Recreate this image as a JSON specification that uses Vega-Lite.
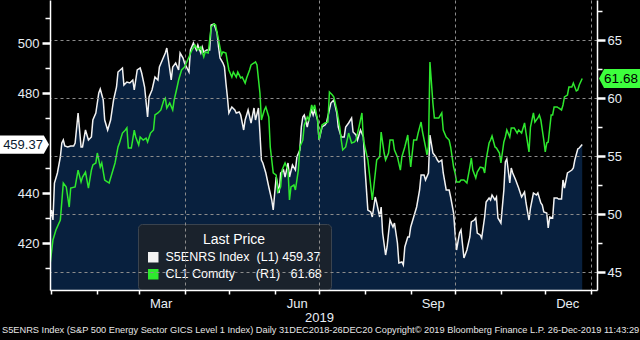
{
  "$schema": "https://vega.github.io/schema/vega-lite/v6.json",
  "width": 547,
  "height": 290,
  "autosize": {"type": "none"},
  "padding": {"left": 50, "top": 0, "right": 43, "bottom": 50},
  "background": "#000000",
  "config": {"view": {"stroke": null}, "font": "Liberation Sans"},
  "title": {
    "text": "S5ENRS Index (S&P 500 Energy Sector GICS Level 1 Index)  Daily 31DEC2018-26DEC20     Copyright\u00a9 2019 Bloomberg Finance L.P.     26-Dec-2019 11:43:29",
    "orient": "bottom", "anchor": "start", "frame": "group", "dx": -48, "offset": 2,
    "font": "Liberation Sans", "fontSize": 9.25, "fontWeight": "normal", "color": "#e6e6e6"
  },
  "datasets": {
    "s5": [
      {"date":"2018-12-31","v":429.2},{"date":"2019-01-01","v":433.2},{"date":"2019-01-02","v":429.2},{"date":"2019-01-03","v":444.0},{"date":"2019-01-05","v":448.0},{"date":"2019-01-07","v":454.4},{"date":"2019-01-08","v":460.0},{"date":"2019-01-09","v":461.2},{"date":"2019-01-10","v":458.8},{"date":"2019-01-12","v":458.4},{"date":"2019-01-14","v":458.8},{"date":"2019-01-16","v":458.8},{"date":"2019-01-17","v":460.0},{"date":"2019-01-19","v":472.0},{"date":"2019-01-21","v":458.4},{"date":"2019-01-22","v":458.4},{"date":"2019-01-24","v":465.2},{"date":"2019-01-26","v":461.2},{"date":"2019-01-28","v":462.4},{"date":"2019-01-29","v":469.2},{"date":"2019-01-31","v":472.0},
      {"date":"2019-02-02","v":480.0},{"date":"2019-02-03","v":481.6},{"date":"2019-02-05","v":477.2},{"date":"2019-02-06","v":469.2},{"date":"2019-02-08","v":465.2},{"date":"2019-02-10","v":469.2},{"date":"2019-02-12","v":477.2},{"date":"2019-02-14","v":482.4},{"date":"2019-02-15","v":488.4},{"date":"2019-02-18","v":490.0},{"date":"2019-02-19","v":483.2},{"date":"2019-02-21","v":484.4},{"date":"2019-02-23","v":484.0},{"date":"2019-02-25","v":485.2},{"date":"2019-02-26","v":481.2},{"date":"2019-02-28","v":489.2},
      {"date":"2019-03-02","v":490.0},{"date":"2019-03-03","v":488.0},{"date":"2019-03-05","v":482.4},{"date":"2019-03-07","v":470.4},{"date":"2019-03-08","v":478.4},{"date":"2019-03-10","v":481.2},{"date":"2019-03-12","v":486.4},{"date":"2019-03-14","v":485.2},{"date":"2019-03-15","v":490.4},{"date":"2019-03-17","v":493.2},{"date":"2019-03-19","v":496.0},{"date":"2019-03-20","v":498.0},{"date":"2019-03-23","v":485.2},{"date":"2019-03-24","v":490.4},{"date":"2019-03-26","v":492.0},{"date":"2019-03-28","v":489.2},{"date":"2019-03-29","v":496.0},{"date":"2019-03-31","v":494.0},
      {"date":"2019-04-01","v":492.0},{"date":"2019-04-04","v":488.4},{"date":"2019-04-05","v":497.2},{"date":"2019-04-07","v":500.0},{"date":"2019-04-09","v":497.2},{"date":"2019-04-10","v":499.2},{"date":"2019-04-12","v":496.0},{"date":"2019-04-13","v":498.4},{"date":"2019-04-14","v":496.4},{"date":"2019-04-16","v":497.2},{"date":"2019-04-18","v":497.2},{"date":"2019-04-19","v":507.2},{"date":"2019-04-21","v":507.6},{"date":"2019-04-23","v":504.0},{"date":"2019-04-24","v":498.4},{"date":"2019-04-25","v":494.0},{"date":"2019-04-27","v":492.0},{"date":"2019-04-28","v":490.4},{"date":"2019-04-29","v":484.0},{"date":"2019-04-30","v":478.4},
      {"date":"2019-05-01","v":472.0},{"date":"2019-05-03","v":474.4},{"date":"2019-05-05","v":473.2},{"date":"2019-05-06","v":472.0},{"date":"2019-05-08","v":472.4},{"date":"2019-05-09","v":471.2},{"date":"2019-05-11","v":465.2},{"date":"2019-05-12","v":469.2},{"date":"2019-05-14","v":473.2},{"date":"2019-05-16","v":468.0},{"date":"2019-05-18","v":474.0},{"date":"2019-05-19","v":469.2},{"date":"2019-05-21","v":474.0},{"date":"2019-05-22","v":464.0},{"date":"2019-05-23","v":453.2},{"date":"2019-05-24","v":452.0},{"date":"2019-05-26","v":448.0},{"date":"2019-05-28","v":442.4},{"date":"2019-05-30","v":437.2},{"date":"2019-05-31","v":433.2},
      {"date":"2019-06-01","v":440.0},{"date":"2019-06-02","v":446.4},{"date":"2019-06-04","v":440.0},{"date":"2019-06-05","v":448.0},{"date":"2019-06-07","v":449.2},{"date":"2019-06-08","v":446.4},{"date":"2019-06-10","v":452.0},{"date":"2019-06-11","v":446.4},{"date":"2019-06-13","v":451.2},{"date":"2019-06-15","v":449.2},{"date":"2019-06-16","v":454.4},{"date":"2019-06-18","v":457.2},{"date":"2019-06-19","v":466.4},{"date":"2019-06-20","v":470.4},{"date":"2019-06-21","v":471.2},{"date":"2019-06-23","v":466.4},{"date":"2019-06-24","v":469.2},{"date":"2019-06-26","v":473.2},{"date":"2019-06-27","v":471.2},{"date":"2019-06-28","v":473.2},{"date":"2019-06-30","v":469.2},
      {"date":"2019-07-01","v":461.2},{"date":"2019-07-03","v":466.4},{"date":"2019-07-05","v":467.2},{"date":"2019-07-06","v":468.0},{"date":"2019-07-09","v":476.0},{"date":"2019-07-11","v":477.2},{"date":"2019-07-13","v":472.0},{"date":"2019-07-14","v":466.4},{"date":"2019-07-16","v":462.4},{"date":"2019-07-18","v":462.4},{"date":"2019-07-19","v":466.4},{"date":"2019-07-21","v":468.0},{"date":"2019-07-23","v":470.0},{"date":"2019-07-24","v":464.4},{"date":"2019-07-26","v":463.2},{"date":"2019-07-27","v":461.2},{"date":"2019-07-29","v":465.2},{"date":"2019-07-31","v":462.4},
      {"date":"2019-08-01","v":450.4},{"date":"2019-08-03","v":433.2},{"date":"2019-08-05","v":432.4},{"date":"2019-08-06","v":430.4},{"date":"2019-08-08","v":438.4},{"date":"2019-08-09","v":436.0},{"date":"2019-08-11","v":430.4},{"date":"2019-08-12","v":434.4},{"date":"2019-08-13","v":424.0},{"date":"2019-08-15","v":415.2},{"date":"2019-08-16","v":418.4},{"date":"2019-08-17","v":424.0},{"date":"2019-08-18","v":429.2},{"date":"2019-08-20","v":426.4},{"date":"2019-08-21","v":428.0},{"date":"2019-08-23","v":420.0},{"date":"2019-08-24","v":412.0},{"date":"2019-08-26","v":412.4},{"date":"2019-08-27","v":411.2},{"date":"2019-08-28","v":418.4},{"date":"2019-08-30","v":422.4},{"date":"2019-08-31","v":422.4},
      {"date":"2019-09-01","v":426.4},{"date":"2019-09-03","v":430.4},{"date":"2019-09-05","v":434.4},{"date":"2019-09-07","v":441.2},{"date":"2019-09-08","v":447.2},{"date":"2019-09-10","v":447.2},{"date":"2019-09-11","v":445.2},{"date":"2019-09-13","v":448.0},{"date":"2019-09-14","v":463.2},{"date":"2019-09-16","v":456.0},{"date":"2019-09-18","v":454.4},{"date":"2019-09-19","v":453.2},{"date":"2019-09-20","v":452.4},{"date":"2019-09-22","v":453.2},{"date":"2019-09-23","v":448.0},{"date":"2019-09-25","v":441.2},{"date":"2019-09-27","v":441.2},{"date":"2019-09-28","v":438.4},{"date":"2019-09-30","v":432.0},
      {"date":"2019-10-01","v":424.0},{"date":"2019-10-02","v":417.2},{"date":"2019-10-04","v":424.0},{"date":"2019-10-05","v":425.2},{"date":"2019-10-07","v":414.0},{"date":"2019-10-09","v":417.2},{"date":"2019-10-11","v":422.4},{"date":"2019-10-12","v":428.4},{"date":"2019-10-14","v":429.2},{"date":"2019-10-15","v":430.0},{"date":"2019-10-16","v":424.0},{"date":"2019-10-18","v":423.2},{"date":"2019-10-19","v":422.0},{"date":"2019-10-21","v":430.4},{"date":"2019-10-22","v":436.4},{"date":"2019-10-24","v":438.0},{"date":"2019-10-25","v":437.2},{"date":"2019-10-26","v":439.2},{"date":"2019-10-28","v":437.2},{"date":"2019-10-29","v":438.4},{"date":"2019-10-30","v":430.0},
      {"date":"2019-11-01","v":428.0},{"date":"2019-11-03","v":441.2},{"date":"2019-11-04","v":452.4},{"date":"2019-11-05","v":453.6},{"date":"2019-11-07","v":444.0},{"date":"2019-11-08","v":450.0},{"date":"2019-11-09","v":448.0},{"date":"2019-11-11","v":445.2},{"date":"2019-11-13","v":442.0},{"date":"2019-11-15","v":438.4},{"date":"2019-11-17","v":440.4},{"date":"2019-11-18","v":436.0},{"date":"2019-11-20","v":429.2},{"date":"2019-11-21","v":434.0},{"date":"2019-11-23","v":440.0},{"date":"2019-11-25","v":439.2},{"date":"2019-11-26","v":440.0},{"date":"2019-11-28","v":436.0},{"date":"2019-11-29","v":435.2},{"date":"2019-11-30","v":432.4},
      {"date":"2019-12-02","v":432.0},{"date":"2019-12-03","v":426.0},{"date":"2019-12-04","v":430.4},{"date":"2019-12-06","v":430.0},{"date":"2019-12-07","v":438.0},{"date":"2019-12-09","v":438.0},{"date":"2019-12-10","v":437.6},{"date":"2019-12-12","v":437.6},{"date":"2019-12-13","v":445.2},{"date":"2019-12-14","v":442.0},{"date":"2019-12-16","v":448.0},{"date":"2019-12-17","v":448.4},{"date":"2019-12-19","v":449.2},{"date":"2019-12-20","v":450.0},{"date":"2019-12-21","v":453.2},{"date":"2019-12-23","v":457.6},{"date":"2019-12-24","v":458.0},{"date":"2019-12-26","v":459.37}
    ],
    "cl": [
      {"date":"2018-12-31","v":45.61},{"date":"2019-01-02","v":47.76},{"date":"2019-01-04","v":48.62},{"date":"2019-01-07","v":49.48},{"date":"2019-01-09","v":52.67},{"date":"2019-01-11","v":52.33},{"date":"2019-01-13","v":50.60},{"date":"2019-01-14","v":52.24},{"date":"2019-01-17","v":52.33},{"date":"2019-01-19","v":53.79},{"date":"2019-01-21","v":52.76},{"date":"2019-01-22","v":53.19},{"date":"2019-01-24","v":53.62},{"date":"2019-01-26","v":52.24},{"date":"2019-01-28","v":53.79},{"date":"2019-01-29","v":54.23},{"date":"2019-01-31","v":54.40},
      {"date":"2019-02-01","v":55.26},{"date":"2019-02-03","v":54.05},{"date":"2019-02-04","v":54.40},{"date":"2019-02-06","v":52.93},{"date":"2019-02-08","v":52.76},{"date":"2019-02-09","v":52.67},{"date":"2019-02-11","v":53.54},{"date":"2019-02-13","v":54.40},{"date":"2019-02-15","v":55.78},{"date":"2019-02-16","v":56.12},{"date":"2019-02-18","v":56.98},{"date":"2019-02-20","v":57.24},{"date":"2019-02-21","v":57.42},{"date":"2019-02-22","v":55.69},{"date":"2019-02-24","v":55.69},{"date":"2019-02-26","v":57.24},{"date":"2019-02-27","v":56.64},
      {"date":"2019-03-01","v":55.95},{"date":"2019-03-02","v":56.64},{"date":"2019-03-04","v":56.38},{"date":"2019-03-06","v":56.55},{"date":"2019-03-07","v":56.21},{"date":"2019-03-09","v":56.98},{"date":"2019-03-11","v":57.24},{"date":"2019-03-12","v":58.54},{"date":"2019-03-14","v":58.71},{"date":"2019-03-16","v":58.97},{"date":"2019-03-18","v":59.83},{"date":"2019-03-19","v":60.00},{"date":"2019-03-20","v":59.14},{"date":"2019-03-22","v":59.57},{"date":"2019-03-24","v":58.97},{"date":"2019-03-25","v":59.83},{"date":"2019-03-27","v":60.95},{"date":"2019-03-28","v":61.55},{"date":"2019-03-30","v":62.42},
      {"date":"2019-04-01","v":62.67},{"date":"2019-04-04","v":63.54},{"date":"2019-04-06","v":64.14},{"date":"2019-04-08","v":64.57},{"date":"2019-04-10","v":64.14},{"date":"2019-04-12","v":64.40},{"date":"2019-04-14","v":63.54},{"date":"2019-04-15","v":63.97},{"date":"2019-04-17","v":63.88},{"date":"2019-04-19","v":66.12},{"date":"2019-04-21","v":66.38},{"date":"2019-04-22","v":66.30},{"date":"2019-04-24","v":65.00},{"date":"2019-04-26","v":63.71},{"date":"2019-04-27","v":63.97},{"date":"2019-04-29","v":63.88},
      {"date":"2019-05-01","v":62.42},{"date":"2019-05-03","v":61.81},{"date":"2019-05-04","v":62.24},{"date":"2019-05-06","v":61.81},{"date":"2019-05-07","v":62.24},{"date":"2019-05-09","v":61.73},{"date":"2019-05-10","v":61.81},{"date":"2019-05-12","v":61.29},{"date":"2019-05-13","v":61.73},{"date":"2019-05-15","v":62.42},{"date":"2019-05-16","v":62.85},{"date":"2019-05-18","v":63.02},{"date":"2019-05-19","v":63.11},{"date":"2019-05-20","v":62.85},{"date":"2019-05-22","v":60.43},{"date":"2019-05-23","v":58.11},{"date":"2019-05-25","v":58.97},{"date":"2019-05-26","v":59.23},{"date":"2019-05-28","v":58.36},{"date":"2019-05-29","v":55.78},{"date":"2019-05-30","v":54.66},{"date":"2019-05-31","v":53.54},
      {"date":"2019-06-02","v":53.36},{"date":"2019-06-03","v":51.90},{"date":"2019-06-05","v":52.33},{"date":"2019-06-06","v":53.79},{"date":"2019-06-08","v":54.40},{"date":"2019-06-10","v":53.79},{"date":"2019-06-11","v":51.21},{"date":"2019-06-12","v":52.33},{"date":"2019-06-14","v":52.50},{"date":"2019-06-15","v":52.07},{"date":"2019-06-17","v":53.79},{"date":"2019-06-18","v":55.78},{"date":"2019-06-20","v":56.38},{"date":"2019-06-21","v":57.67},{"date":"2019-06-23","v":58.36},{"date":"2019-06-24","v":58.11},{"date":"2019-06-26","v":59.40},{"date":"2019-06-27","v":58.97},{"date":"2019-06-28","v":59.40},{"date":"2019-06-30","v":58.11},
      {"date":"2019-07-01","v":56.38},{"date":"2019-07-03","v":57.67},{"date":"2019-07-05","v":57.85},{"date":"2019-07-07","v":57.93},{"date":"2019-07-08","v":60.52},{"date":"2019-07-10","v":60.26},{"date":"2019-07-11","v":60.09},{"date":"2019-07-13","v":58.97},{"date":"2019-07-15","v":57.50},{"date":"2019-07-16","v":56.38},{"date":"2019-07-17","v":55.52},{"date":"2019-07-19","v":55.78},{"date":"2019-07-21","v":56.98},{"date":"2019-07-23","v":56.12},{"date":"2019-07-25","v":56.21},{"date":"2019-07-26","v":56.38},{"date":"2019-07-28","v":57.50},{"date":"2019-07-30","v":58.71},{"date":"2019-07-31","v":56.38},
      {"date":"2019-08-01","v":55.78},{"date":"2019-08-03","v":54.66},{"date":"2019-08-04","v":53.54},{"date":"2019-08-06","v":51.21},{"date":"2019-08-07","v":52.33},{"date":"2019-08-09","v":54.66},{"date":"2019-08-11","v":54.92},{"date":"2019-08-12","v":57.07},{"date":"2019-08-14","v":55.26},{"date":"2019-08-15","v":54.66},{"date":"2019-08-17","v":55.26},{"date":"2019-08-18","v":56.38},{"date":"2019-08-20","v":56.38},{"date":"2019-08-21","v":55.52},{"date":"2019-08-23","v":54.92},{"date":"2019-08-25","v":53.79},{"date":"2019-08-26","v":54.92},{"date":"2019-08-28","v":55.78},{"date":"2019-08-30","v":56.81},{"date":"2019-08-31","v":55.26},
      {"date":"2019-09-01","v":54.05},{"date":"2019-09-03","v":56.38},{"date":"2019-09-05","v":56.38},{"date":"2019-09-06","v":56.98},{"date":"2019-09-08","v":57.93},{"date":"2019-09-09","v":57.07},{"date":"2019-09-11","v":55.78},{"date":"2019-09-12","v":55.09},{"date":"2019-09-13","v":55.78},{"date":"2019-09-14","v":63.11},{"date":"2019-09-16","v":59.57},{"date":"2019-09-17","v":58.28},{"date":"2019-09-19","v":58.28},{"date":"2019-09-20","v":58.28},{"date":"2019-09-22","v":58.71},{"date":"2019-09-23","v":57.24},{"date":"2019-09-25","v":56.64},{"date":"2019-09-27","v":56.38},{"date":"2019-09-28","v":55.78},{"date":"2019-09-30","v":54.05},
      {"date":"2019-10-01","v":53.54},{"date":"2019-10-02","v":52.76},{"date":"2019-10-04","v":52.76},{"date":"2019-10-05","v":52.93},{"date":"2019-10-07","v":52.93},{"date":"2019-10-09","v":52.67},{"date":"2019-10-11","v":54.05},{"date":"2019-10-12","v":54.83},{"date":"2019-10-13","v":53.79},{"date":"2019-10-15","v":53.11},{"date":"2019-10-16","v":53.62},{"date":"2019-10-18","v":54.05},{"date":"2019-10-20","v":53.97},{"date":"2019-10-21","v":53.54},{"date":"2019-10-22","v":54.66},{"date":"2019-10-24","v":56.12},{"date":"2019-10-25","v":56.38},{"date":"2019-10-26","v":56.73},{"date":"2019-10-28","v":55.78},{"date":"2019-10-29","v":55.69},{"date":"2019-10-31","v":55.26},
      {"date":"2019-11-01","v":54.40},{"date":"2019-11-03","v":56.21},{"date":"2019-11-04","v":56.64},{"date":"2019-11-05","v":57.24},{"date":"2019-11-07","v":56.64},{"date":"2019-11-08","v":57.42},{"date":"2019-11-10","v":57.42},{"date":"2019-11-12","v":56.98},{"date":"2019-11-13","v":57.24},{"date":"2019-11-15","v":56.98},{"date":"2019-11-17","v":57.85},{"date":"2019-11-18","v":56.98},{"date":"2019-11-20","v":55.35},{"date":"2019-11-21","v":57.50},{"date":"2019-11-23","v":58.71},{"date":"2019-11-24","v":57.93},{"date":"2019-11-26","v":58.28},{"date":"2019-11-27","v":58.54},{"date":"2019-11-28","v":58.11},{"date":"2019-11-30","v":56.38},
      {"date":"2019-12-01","v":55.35},{"date":"2019-12-02","v":56.12},{"date":"2019-12-03","v":56.21},{"date":"2019-12-05","v":58.54},{"date":"2019-12-06","v":58.54},{"date":"2019-12-07","v":59.23},{"date":"2019-12-09","v":59.23},{"date":"2019-12-10","v":59.14},{"date":"2019-12-12","v":58.97},{"date":"2019-12-13","v":59.40},{"date":"2019-12-14","v":60.09},{"date":"2019-12-16","v":60.26},{"date":"2019-12-17","v":60.95},{"date":"2019-12-19","v":60.95},{"date":"2019-12-20","v":61.29},{"date":"2019-12-22","v":60.61},{"date":"2019-12-23","v":60.69},{"date":"2019-12-24","v":61.12},{"date":"2019-12-26","v":61.68}
    ]
  },
  "layer": [
    {
      "data": {"name": "s5"},
      "encoding": {
        "x": {
          "field": "date", "type": "temporal",
          "scale": {"type": "utc", "domain": [{"year": 2018, "month": 12, "date": 31, "utc": true}, {"year": 2020, "month": 1, "date": 5, "utc": true}]},
          "axis": {
            "orient": "bottom", "title": null, "grid": false,
            "values": [
              {"year": 2019, "month": 1, "date": 1, "utc": true}, {"year": 2019, "month": 2, "date": 1, "utc": true}, {"year": 2019, "month": 3, "date": 1, "utc": true},
              {"year": 2019, "month": 4, "date": 1, "utc": true}, {"year": 2019, "month": 5, "date": 1, "utc": true}, {"year": 2019, "month": 6, "date": 1, "utc": true},
              {"year": 2019, "month": 7, "date": 1, "utc": true}, {"year": 2019, "month": 8, "date": 1, "utc": true}, {"year": 2019, "month": 9, "date": 1, "utc": true},
              {"year": 2019, "month": 10, "date": 1, "utc": true}, {"year": 2019, "month": 11, "date": 1, "utc": true}, {"year": 2019, "month": 12, "date": 1, "utc": true},
              {"year": 2020, "month": 1, "date": 1, "utc": true}
            ],
            "labelExpr": "indexof(['Mar','Jun','Sep','Dec'], utcFormat(datum.value, '%b')) >= 0 && utcyear(datum.value) == 2019 ? utcFormat(datum.value, '%b') : ''",
            "labelOffset": 22, "labelFlush": false, "labelOverlap": false, "labelPadding": 3,
            "labelColor": "#e8eef5", "labelFontSize": 13, "labelFont": "Liberation Sans",
            "domainColor": "#ffffff", "domainWidth": 1.5, "tickColor": "#ffffff", "tickSize": 4, "tickWidth": 1.5, "zindex": 2
          }
        },
        "y": {
          "field": "v", "type": "quantitative",
          "scale": {"domain": [401.2, 517.2], "zero": false, "nice": false},
          "axis": {
            "orient": "left", "title": null, "grid": false, "zindex": 2,
            "values": [410, 420, 430, 440, 450, 470, 480, 490, 500, 510],
            "labelExpr": "datum.value % 20 == 0 ? datum.label : ''",
            "labelColor": "#e8eef5", "labelFontSize": 13, "labelFont": "Liberation Sans", "labelPadding": 3,
            "domainColor": "#ffffff", "domainWidth": 1.5, "tickColor": "#ffffff",
            "tickSize": {"condition": {"test": "datum.value % 20 == 0", "value": 8}, "value": 5},
            "tickWidth": {"condition": {"test": "datum.value % 20 == 0", "value": 2.5}, "value": 1.5}
          }
        }
      },
      "layer": [
        {"mark": {"type": "area", "color": "#08203e", "opacity": 1, "clip": true}},
        {
          "mark": {"type": "line", "strokeWidth": 1.5, "clip": true},
          "encoding": {
            "color": {
              "datum": "S5ENRS Index",
              "scale": {"domain": ["S5ENRS Index", "CL1 Comdty"], "range": ["#f2f2f2", "#2ee82e"]},
              "legend": {
                "orient": "none", "legendX": 88, "legendY": 224,
                "title": "Last Price", "titleAnchor": "middle", "titleColor": "#ffffff", "titleFontSize": 14, "titleFontWeight": "normal", "titleFont": "Liberation Sans", "titlePadding": 4,
                "labelColor": "#ffffff", "labelFontSize": 12.5, "labelFont": "Liberation Sans", "labelLimit": 400, "labelOffset": 6,
                "labelExpr": "datum.value == 'S5ENRS Index' ? 'S5ENRS Index\u00a0\u00a0(L1) 459.37' : 'CL1 Comdty\u00a0\u00a0\u00a0\u00a0\u00a0\u00a0(R1)\u00a0\u00a0\u00a061.68'",
                "symbolType": "square", "symbolSize": 110, "symbolStrokeWidth": 0,
                "fillColor": "#1a222c", "strokeColor": "#3a434e", "cornerRadius": 4, "padding": 9, "rowPadding": 4,
                "encode": {"symbols": {"update": {"fill": {"scale": "color", "field": "value"}, "fillOpacity": {"value": 1}, "shape": {"value": "square"}}}}
              }
            }
          }
        },
        {
          "data": {"values": [{"date": "2018-12-31", "v": 459.37, "label": "459.37"}]},
          "mark": {"type": "point", "shape": "M-1,-0.375L0.79,-0.375L1,0L0.79,0.375L-1,0.375Z", "size": 2401, "filled": true, "color": "#ffffff", "opacity": 1, "strokeWidth": 0, "xOffset": -25.5}
        },
        {
          "data": {"values": [{"date": "2018-12-31", "v": 459.37, "label": "459.37"}]},
          "mark": {"type": "text", "color": "#0a1a30", "fontSize": 13, "font": "Liberation Sans", "xOffset": -27, "align": "center", "baseline": "middle"},
          "encoding": {"text": {"field": "label"}}
        }
      ]
    },
    {
      "data": {"name": "cl"},
      "encoding": {
        "x": {
          "field": "date", "type": "temporal",
          "scale": {"type": "utc", "domain": [{"year": 2018, "month": 12, "date": 31, "utc": true}, {"year": 2020, "month": 1, "date": 5, "utc": true}]},
          "axis": {
            "orient": "bottom", "title": null, "grid": true, "zindex": 1,
            "values": [{"year": 2019, "month": 4, "date": 1, "utc": true}, {"year": 2019, "month": 7, "date": 1, "utc": true}, {"year": 2019, "month": 10, "date": 1, "utc": true}, {"year": 2020, "month": 1, "date": 1, "utc": true}],
            "labelExpr": "utcmonth(datum.value) == 6 ? '2019' : ''",
            "labelFlush": false, "labelOverlap": false, "labelPadding": 21,
            "labelColor": "#e8eef5", "labelFontSize": 13, "labelFont": "Liberation Sans",
            "domain": false, "ticks": false,
            "gridColor": "#8c8c8c", "gridDash": [3, 3], "gridWidth": 1
          }
        },
        "y": {
          "field": "v", "type": "quantitative",
          "scale": {"domain": [43.45, 68.45], "zero": false, "nice": false},
          "axis": {
            "orient": "right", "title": null, "grid": true, "zindex": 1,
            "values": [45, 47.5, 50, 52.5, 55, 57.5, 60, 62.5, 65, 67.5],
            "labelExpr": "datum.value % 5 == 0 ? datum.label : ''",
            "labelColor": "#e8eef5", "labelFontSize": 13, "labelFont": "Liberation Sans", "labelPadding": 2,
            "domainColor": "#ffffff", "domainWidth": 1.5, "tickColor": "#ffffff",
            "tickSize": {"condition": {"test": "datum.value % 5 == 0", "value": 8}, "value": 5},
            "tickWidth": {"condition": {"test": "datum.value % 5 == 0", "value": 2.5}, "value": 1.5},
            "gridColor": "#8c8c8c", "gridDash": [3, 3], "gridWidth": 1,
            "gridOpacity": {"condition": {"test": "datum.value % 5 == 0", "value": 1}, "value": 0}
          }
        }
      },
      "layer": [
        {
          "mark": {"type": "line", "strokeWidth": 1.5, "clip": true},
          "encoding": {"color": {"datum": "CL1 Comdty"}}
        },
        {
          "data": {"values": [{"date": "2020-01-05", "v": 61.68, "label": "61.68"}]},
          "mark": {"type": "point", "shape": "M1,-0.45L-0.76,-0.45L-1,0L-0.76,0.45L1,0.45Z", "size": 1764, "filled": true, "color": "#3dff3d", "opacity": 1, "strokeWidth": 0, "xOffset": 23}
        },
        {
          "data": {"values": [{"date": "2020-01-05", "v": 61.68, "label": "61.68"}]},
          "mark": {"type": "text", "color": "#000000", "fontSize": 13.5, "font": "Liberation Sans", "xOffset": 24, "align": "center", "baseline": "middle"},
          "encoding": {"text": {"field": "label"}}
        }
      ]
    }
  ],
  "resolve": {"scale": {"y": "independent"}, "axis": {"x": "independent"}}
}
